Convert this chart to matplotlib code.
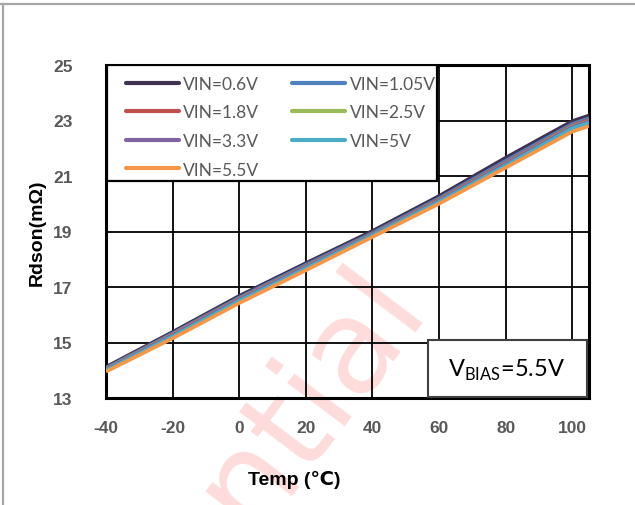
import matplotlib
matplotlib.use('Agg')
import matplotlib.pyplot as plt
from matplotlib.patches import Rectangle
from matplotlib.lines import Line2D

plt.rcParams['axes.unicode_minus'] = False

# ---- data ----
temps = [-40, -20, 0, 20, 40, 60, 80, 100, 105]
vin_0p6 = [14.12, 15.38, 16.68, 17.86, 19.02, 20.28, 21.66, 22.98, 23.18]
vin_1p05 = [14.08, 15.33, 16.62, 17.80, 18.95, 20.20, 21.55, 22.88, 23.08]
vin_1p8 = [14.05, 15.30, 16.58, 17.75, 18.90, 20.15, 21.48, 22.82, 23.02]
vin_2p5 = [14.04, 15.28, 16.56, 17.73, 18.88, 20.12, 21.45, 22.79, 22.98]
vin_3p3 = [14.03, 15.27, 16.55, 17.72, 18.87, 20.11, 21.44, 22.77, 22.97]
vin_5 = [14.00, 15.22, 16.50, 17.67, 18.85, 20.07, 21.38, 22.72, 22.92]
vin_5p5 = [13.95, 15.15, 16.42, 17.60, 18.80, 20.00, 21.30, 22.60, 22.80]

series = [vin_0p6, vin_1p05, vin_1p8, vin_2p5, vin_3p3, vin_5, vin_5p5]
labels = ['VIN=0.6V', 'VIN=1.05V', 'VIN=1.8V', 'VIN=2.5V', 'VIN=3.3V', 'VIN=5V', 'VIN=5.5V']
colors = ['#403152', '#4F81BD', '#C0504D', '#9BBB59', '#8064A2', '#4BACC6', '#F79646']
x_ticks = [-40, -20, 0, 20, 40, 60, 80, 100]
y_ticks = [13, 15, 17, 19, 21, 23, 25]

W, H = 635, 506
fig = plt.figure(figsize=(W / 100, H / 100), dpi=100)

def fx(x):
    return x / W

def fy(y):
    return 1 - y / H

# watermark (behind everything)
fig.text(fx(428), fy(306), 'Confidential', rotation=53, rotation_mode='anchor',
         ha='right', va='baseline', fontsize=95, family='DejaVu Sans',
         color=(1, 0, 0, 0.14), zorder=-5)

# figure frame lines (top and left)
fig.add_artist(Line2D([0, 1], [fy(5), fy(5)], transform=fig.transFigure,
                      color='#A6A6A6', lw=1.6))
fig.add_artist(Line2D([fx(2.5), fx(2.5)], [0, fy(5)], transform=fig.transFigure,
                      color='#A6A6A6', lw=1.6))

ax_l, ax_r, ax_t, ax_b = 106, 589, 66, 399
ax = fig.add_axes([fx(ax_l), fy(ax_b), fx(ax_r) - fx(ax_l), fy(ax_t) - fy(ax_b)])
ax.patch.set_facecolor('none')

def axx(px):
    return (px - ax_l) / (ax_r - ax_l)

def axy(py):
    return (ax_b - py) / (ax_b - ax_t)

handles = []
for vals, lab, c in zip(series, labels, colors):
    h, = ax.plot(temps, vals, color=c, lw=2.6, label=lab, solid_capstyle='butt', zorder=3)
    handles.append(h)

ax.set_xlim(-40, 105)
ax.set_ylim(13, 25)
ax.set_xticks(x_ticks)
ax.set_yticks(y_ticks)
ax.grid(True, color='black', lw=1.3)
ax.set_axisbelow(True)
for s in ax.spines.values():
    s.set_color('black')
    s.set_linewidth(2.2)
ax.tick_params(length=0)
ax.tick_params(axis='y', pad=24)
ax.tick_params(axis='x', pad=16)
for lab in ax.get_xticklabels() + ax.get_yticklabels():
    lab.set_fontfamily('Liberation Sans')
    lab.set_fontweight('bold')
    lab.set_fontsize(12.5)
    lab.set_color('#595959')

# legend frame drawn separately
ax.add_patch(Rectangle((axx(107), axy(182)), axx(437) - axx(107), axy(66) - axy(182),
                       transform=ax.transAxes, facecolor='white', edgecolor='black',
                       lw=1.6, zorder=4))

# legend: column-major order for 2 columns
order = [0, 2, 4, 6, 1, 3, 5]
leg = ax.legend([handles[i] for i in order], [labels[i] for i in order],
                ncol=2, loc='upper left', bbox_to_anchor=(axx(126), axy(77)),
                borderaxespad=0, frameon=False, borderpad=0,
                prop={'family': 'Lato', 'size': 12.5},
                handlelength=3.05, handletextpad=0.25, columnspacing=1.9,
                labelspacing=0.72)
leg.set_zorder(5)
for t in leg.get_texts():
    t.set_color('#595959')
for lh in leg.get_lines():
    lh.set_linewidth(3.0)
    lh.set_solid_capstyle('round')

# VBIAS box
ax.add_patch(Rectangle((axx(428), axy(398)), axx(587) - axx(428), axy(341) - axy(398),
                       transform=ax.transAxes, facecolor='white', edgecolor='#404040',
                       lw=1.5, zorder=6))
ax.text(axx(507), axy(370), r'V$_{\mathregular{BIAS}}$=5.5V', transform=ax.transAxes,
        ha='center', va='center', fontsize=17, family='Lato', color='black', zorder=7)

# axis labels
fig.text(fx(294), fy(480), 'Temp (℃)', ha='center', va='center', fontsize=14,
         fontweight='bold', family=['Liberation Sans', 'DejaVu Sans'], color='black')
fig.text(fx(37), fy(233), 'Rdson(mΩ)', ha='center', va='center', rotation=90,
         fontsize=14, fontweight='bold', family=['Liberation Sans', 'DejaVu Sans'],
         color='black')

fig.savefig('out.png', dpi=100)
